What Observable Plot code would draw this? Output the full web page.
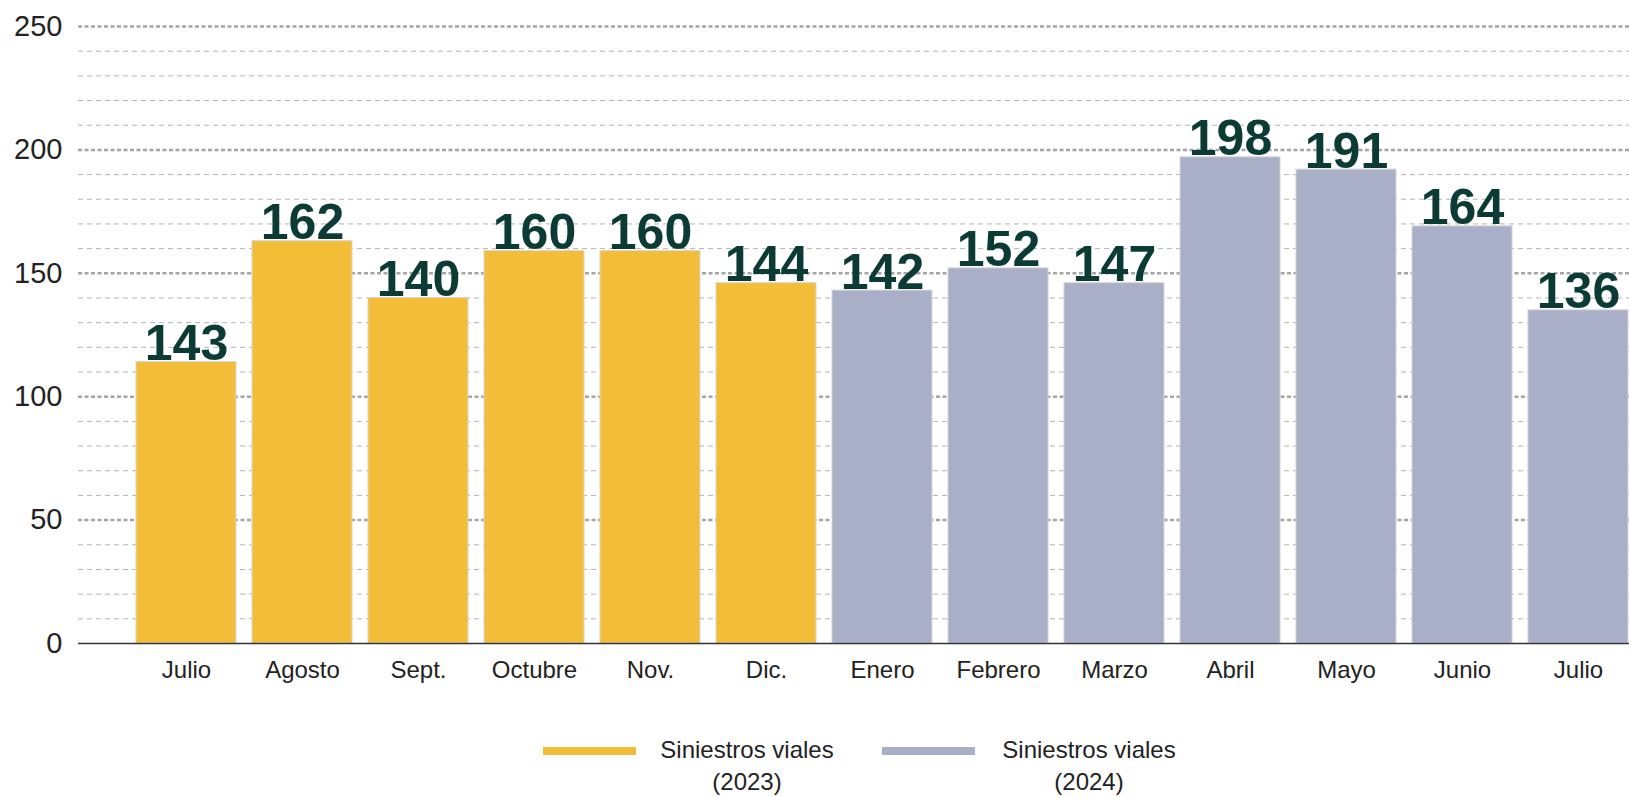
<!DOCTYPE html>
<html>
<head>
<meta charset="utf-8">
<script src="https://cdn.jsdelivr.net/npm/d3@7"></script>
<script src="https://cdn.jsdelivr.net/npm/@observablehq/plot@0.6"></script>
<style>
  html, body { margin: 0; padding: 0; background: #fff; }
  body { position: relative; width: 1629px; height: 797px; overflow: hidden; font-family: "Liberation Sans", Arial, sans-serif; }
  #chart { position: absolute; left: 0; top: 0; }
  .sw { position: absolute; height: 8px; }
  .lt { position: absolute; font-size: 24px; line-height: 32px; color: #222; text-align: center; white-space: nowrap; }
</style>
</head>
<body>
<div id="chart"></div>
<div class="sw" id="sw1" style="left:543px; top:747px; width:93px;"></div>
<div class="lt" style="left:654px; top:734px; width:186px;">Siniestros viales<br>(2023)</div>
<div class="sw" id="sw2" style="left:882px; top:747px; width:93px;"></div>
<div class="lt" style="left:996px; top:734px; width:186px;">Siniestros viales<br>(2024)</div>
<script>
const months = ["Julio","Agosto","Sept.","Octubre","Nov.","Dic.","Enero","Febrero","Marzo","Abril","Mayo","Junio","Julio"];
const years = ["2023","2023","2023","2023","2023","2023","2024","2024","2024","2024","2024","2024","2024"];
const barValues = [114,163,140,159,159,146,143,152,146,197,192,169,135];
const labelValues = [143,162,140,160,160,144,142,152,147,198,191,164,136];
const yTicks = [0,50,100,150,200,250];
const seriesColors = {"2023": "#F3BD37", "2024": "#A9AFC7"};

document.getElementById("sw1").style.background = seriesColors["2023"];
document.getElementById("sw2").style.background = seriesColors["2024"];

const data = months.map((m, i) => ({i, month: m, year: years[i], bar: barValues[i], label: labelValues[i]}));
const minor = d3.range(10, 251, 10).filter(v => v % 50 !== 0);
const major = yTicks.filter(v => v > 0);

const chart = Plot.plot({
  width: 1629,
  height: 700,
  marginTop: 26,
  marginBottom: 57,
  marginLeft: 78,
  marginRight: 0,
  style: {fontFamily: "'Liberation Sans', Arial, sans-serif", background: "#fff", overflow: "visible"},
  x: {domain: d3.range(13), range: [133, 1630.5], paddingInner: 0.135, paddingOuter: 0},
  y: {domain: [0, 250]},
  marks: [
    Plot.ruleY(minor, {stroke: "#b4b4b4", strokeWidth: 1, strokeDasharray: "5,4"}),
    Plot.ruleY(major, {stroke: "#a5a5a5", strokeWidth: 2.5, strokeDasharray: "4,2.5"}),
    Plot.barY(data, {x: "i", y: "bar", fill: d => seriesColors[d.year], stroke: "#d6d6d6", strokeWidth: 1}),
    Plot.ruleY([0], {stroke: "#333", strokeWidth: 1.5}),
    Plot.text(data, {x: "i", y: "bar", text: "label", dy: -2, lineAnchor: "bottom", fontSize: 50, fontWeight: "bold", fill: "#0c3b35"}),
    Plot.axisX({tickSize: 0, tickPadding: 17, fontSize: 24, fill: "#222", tickFormat: i => months[i], label: null}),
    Plot.axisY({ticks: yTicks, tickSize: 0, tickPadding: 16, fontSize: 29, fill: "#222", label: null})
  ]
});
document.getElementById("chart").appendChild(chart);
</script>
</body>
</html>
